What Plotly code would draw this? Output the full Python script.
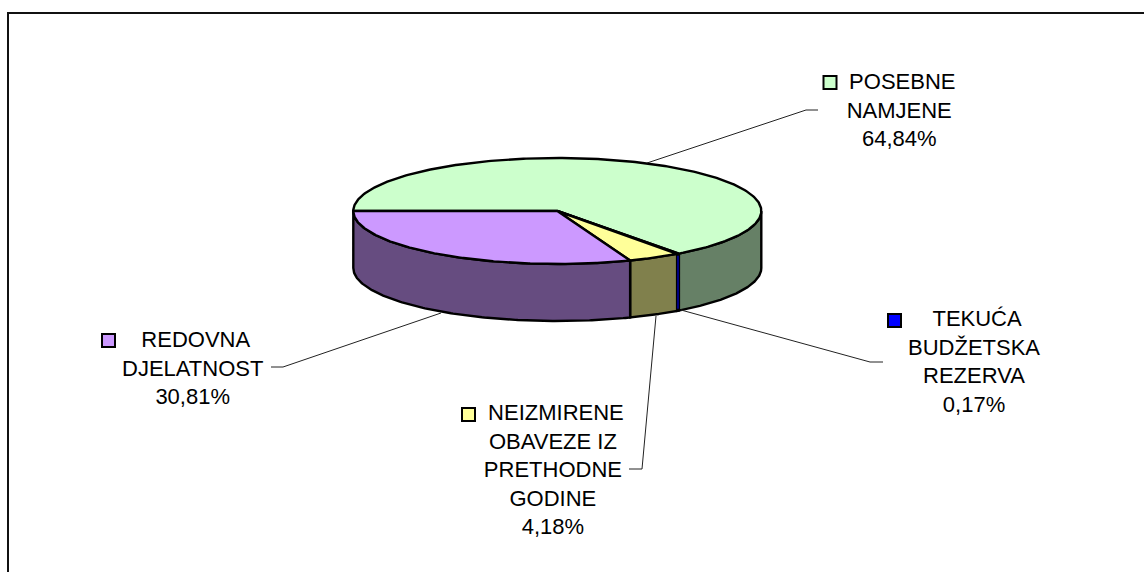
import numpy as np
import plotly.graph_objects as go

categories = ["POSEBNE NAMJENE", "TEKUĆA BUDŽETSKA REZERVA", "NEIZMIRENE OBAVEZE IZ PRETHODNE GODINE", "REDOVNA DJELATNOST"]
values = [64.84, 0.17, 4.18, 30.81]
value_labels = ["64,84%", "0,17%", "4,18%", "30,81%"]
label_lines = [["POSEBNE", "NAMJENE"], ["TEKUĆA", "BUDŽETSKA", "REZERVA"],
               ["NEIZMIRENE", "OBAVEZE IZ", "PRETHODNE", "GODINE"], ["REDOVNA", "DJELATNOST"]]
top_colors = ["#CCFFCC", "#0000FF", "#FFFF99", "#CC99FF"]
side_colors = ["#668066", "#000080", "#80804C", "#664C80"]

W, H = 1144, 572
CX, CY, RX, RY, DEPTH = 557.3, 211, 204, 53, 57
FONT = dict(family="Liberation Sans, Arial, sans-serif", size=22, color="black")

fig = go.Figure()


def ell(a):
    return CX + RX * np.cos(a), CY - RY * np.sin(a)


def poly(x, y, fc, lw=2.4):
    fig.add_trace(go.Scatter(x=x, y=y, mode="lines", fill="toself", fillcolor=fc,
                             line=dict(color="black", width=lw), hoverinfo="skip", showlegend=False))


# slices run clockwise from the left edge of the pie
angles = [np.pi]
for v in values:
    angles.append(angles[-1] - v / sum(values) * 2 * np.pi)

# walls: only the part of each slice on the near half of the ellipse
for i in range(len(values)):
    a0 = min(angles[i], 0.0)
    a1 = max(angles[i + 1], -np.pi)
    vis = np.linspace(a0, a1, 160)
    ex, ey = ell(vis)
    x = np.concatenate([ex, ex[::-1], ex[:1]])
    y = np.concatenate([ey, ey[::-1] + DEPTH, ey[:1]])
    poly(x, y, side_colors[i])

# very thin slice: keep its wall colour visible between the black edges
i_thin = int(np.argmin(values))
mx, my = ell((angles[i_thin] + angles[i_thin + 1]) / 2)
fig.add_trace(go.Scatter(x=[mx, mx], y=[my + 2, my + DEPTH - 2], mode="lines",
                         line=dict(color=side_colors[i_thin], width=2),
                         hoverinfo="skip", showlegend=False))

# top faces
for i in range(len(values)):
    a = np.linspace(angles[i], angles[i + 1], 300 if values[i] > 10 else 30)
    ex, ey = ell(a)
    poly(np.concatenate([[CX], ex, [CX]]), np.concatenate([[CY], ey, [CY]]), top_colors[i])

# leader lines: anchor on the pie, elbow, stub next to the label
leaders = [[(647, 163), (806, 110), (818, 110)],
           [(681, 310), (870, 362), (883, 362)],
           [(656, 316), (642, 469), (629, 469)],
           [(441, 313), (283, 367), (271, 367)]]
for pts in leaders:
    fig.add_trace(go.Scatter(x=[p[0] for p in pts], y=[p[1] for p in pts], mode="lines",
                             line=dict(color="#222222", width=1), hoverinfo="skip", showlegend=False))

# label boxes (first line carries a small shift because of the legend key)
label_pos = [(899, 110), (973.5, 361.5), (552.5, 469), (192.5, 368)]
for (px, py), lines, val in zip(label_pos, label_lines, value_labels):
    txt = "\u00a0" + "<br>".join(lines + [val])
    fig.add_annotation(x=px, y=py, text=txt, showarrow=False,
                       xref="x", yref="y", xanchor="center", yanchor="middle",
                       align="center", font=FONT)

key_pos = [(830, 82.5), (894.5, 320.5), (468.5, 414.5), (108.5, 340.5)]
fig.add_trace(go.Scatter(x=[k[0] for k in key_pos], y=[k[1] for k in key_pos], mode="markers",
                         marker=dict(symbol="square", size=13, color=top_colors,
                                     line=dict(color="black", width=2)),
                         hoverinfo="skip", showlegend=False))

# chart frame (cropped: only the top and left edges are visible)
fig.add_shape(type="line", x0=8, x1=W, y0=13, y1=13, line=dict(color="#111111", width=2), layer="below")
fig.add_shape(type="line", x0=8, x1=8, y0=12, y1=H, line=dict(color="#111111", width=2), layer="below")

fig.update_layout(width=W, height=H, margin=dict(l=0, r=0, t=0, b=0),
                  paper_bgcolor="white", plot_bgcolor="white", showlegend=False,
                  xaxis=dict(range=[0, W], visible=False, fixedrange=True),
                  yaxis=dict(range=[H, 0], visible=False, fixedrange=True))
fig.write_html("out.html", config={"displayModeBar": False},
               post_script="document.body.style.margin='0';document.body.style.overflow='hidden';")
